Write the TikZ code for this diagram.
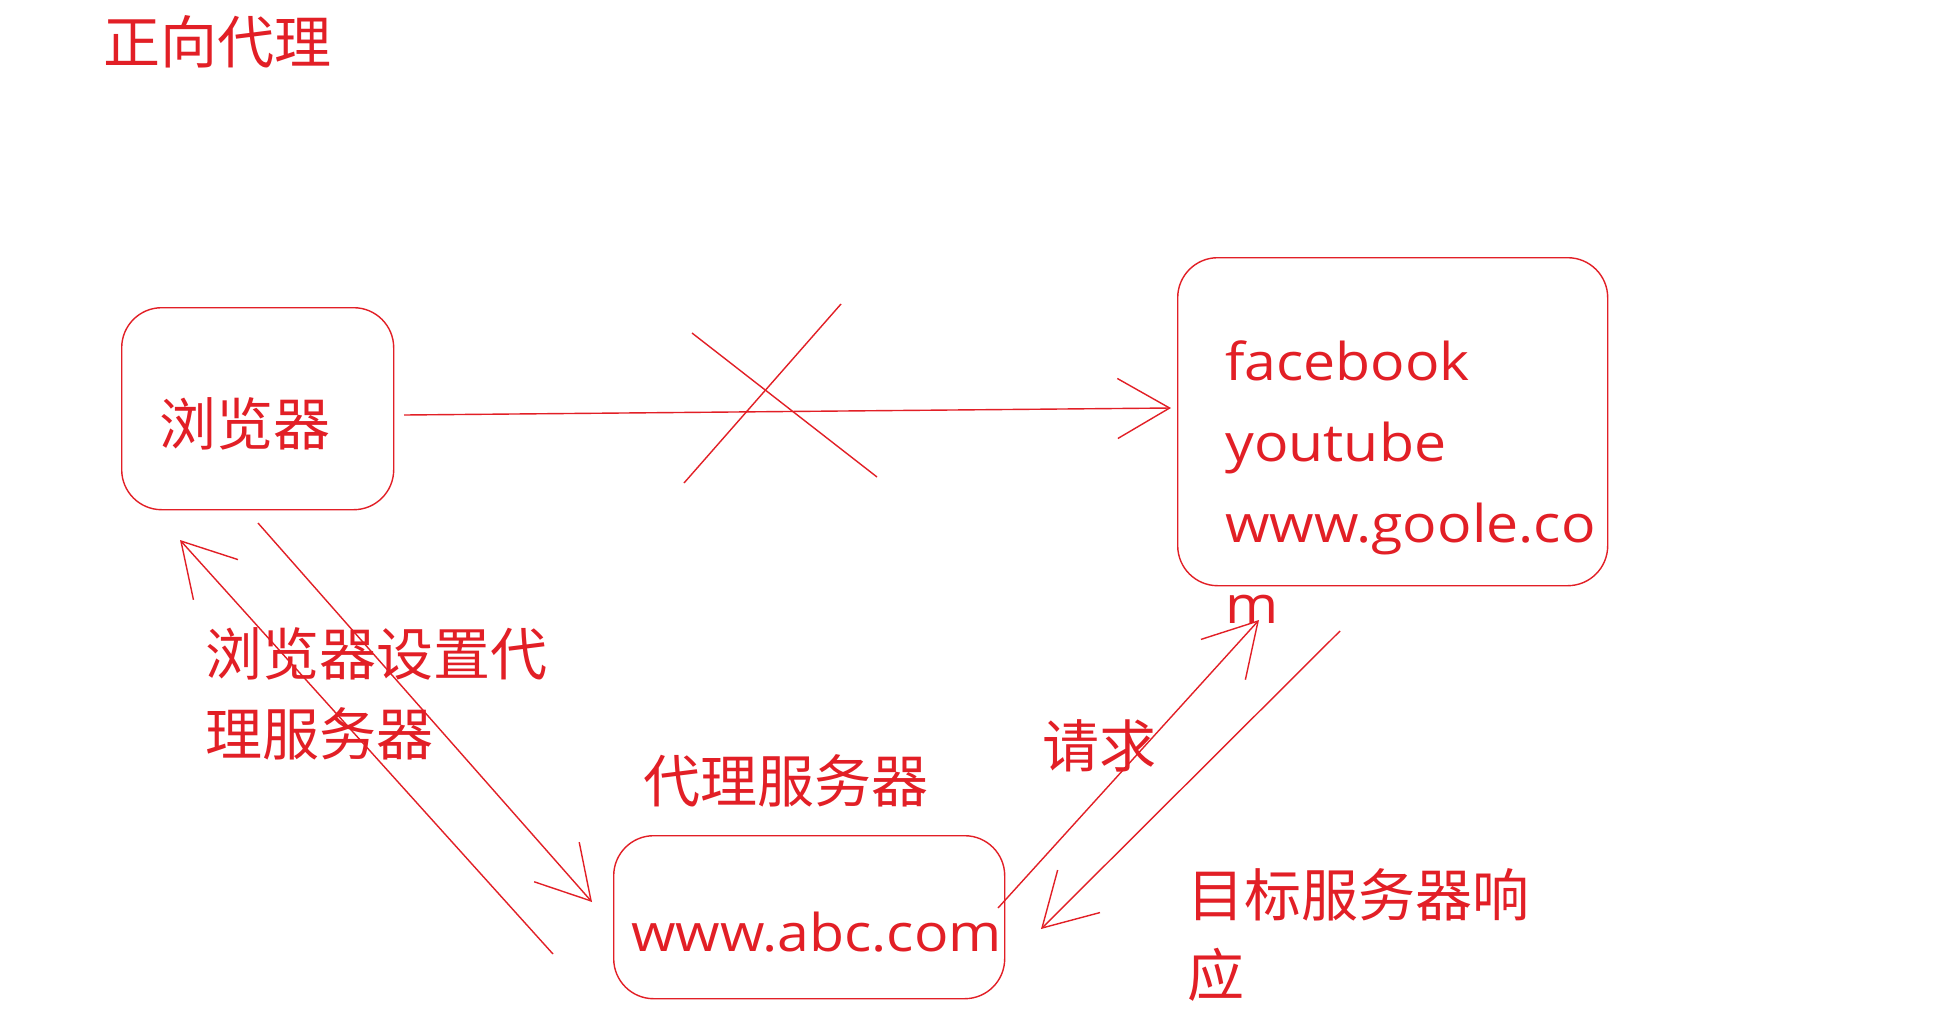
\documentclass[tikz,border=0pt]{standalone}
\usepackage{fontspec}
\setmainfont{Open Sans}[FakeStretch=1.1]
\newfontfamily\cjk{Noto Sans CJK SC}
\usetikzlibrary{arrows.meta}
\definecolor{pen}{RGB}{226,31,38}
\begin{document}
\begin{tikzpicture}[x=1pt,y=-1pt,
  box/.style={draw=pen, rounded corners=40pt, line width=1.4pt, inner sep=0pt, anchor=north west},
  cjklab/.style={font=\cjk\fontsize{57}{80}\selectfont, text=pen, inner sep=0pt, anchor=base west, align=left},
  latlab/.style={font=\fontsize{52}{81}\selectfont, text=pen, inner sep=0pt, anchor=base west, align=left},
  conn/.style={draw=pen, line width=1.4pt},
  arr/.style={conn, -{Straight Barb[length=52pt,width=60pt,line width=1.4pt]}}]
\useasboundingbox (0,0) rectangle (1952,1034);
\fill[white] (0,0) rectangle (1952,1034);

% boxes
\node[box, minimum width=272pt, minimum height=202pt] (browser) at (121,307) {};
\node[box, minimum width=430pt, minimum height=328pt] (target) at (1177,257) {};
\node[box, minimum width=391pt, minimum height=163pt] (proxy) at (613,835) {};

% texts (base anchor of a multi-line node = baseline of its last line)
\node[cjklab] (title) at (103,63) {正向代理};
\node[cjklab] (browsertxt) at (159,445) {浏览器};
\node[cjklab] (setlab) at (205,755) {浏览器设置代\\理服务器};
\node[cjklab] (proxylab) at (643,802) {代理服务器};
\node[cjklab] (reqlab) at (1042,767) {请求};
\node[cjklab] (resplab) at (1187,996) {目标服务器响\\应};
\node[latlab] (sites) at (1225,623) {facebook\\youtube\\www.goole.co\\m};
\node[latlab] (abc) at (631,951) {www.abc.com};

% connector end points
\coordinate (h1) at (404,415);
\coordinate (h2) at (1171,408);
\coordinate (x1a) at (692,333);
\coordinate (x1b) at (877,477);
\coordinate (x2a) at (841,304);
\coordinate (x2b) at (684,483);
\coordinate (d1) at (258,523);
\coordinate (d2) at (592,902);
\coordinate (u1) at (553,954);
\coordinate (u2) at (180,540);
\coordinate (r1) at (998,908);
\coordinate (r2) at (1259,620);
\coordinate (s1) at (1340,631);
\coordinate (s2) at (1041,929);

\draw[arr] (h1) -- (h2);
\draw[conn] (x1a) -- (x1b);
\draw[conn] (x2a) -- (x2b);
\draw[arr] (d1) -- (d2);
\draw[arr] (u1) -- (u2);
\draw[arr] (r1) -- (r2);
\draw[arr] (s1) -- (s2);
\end{tikzpicture}
\end{document}
